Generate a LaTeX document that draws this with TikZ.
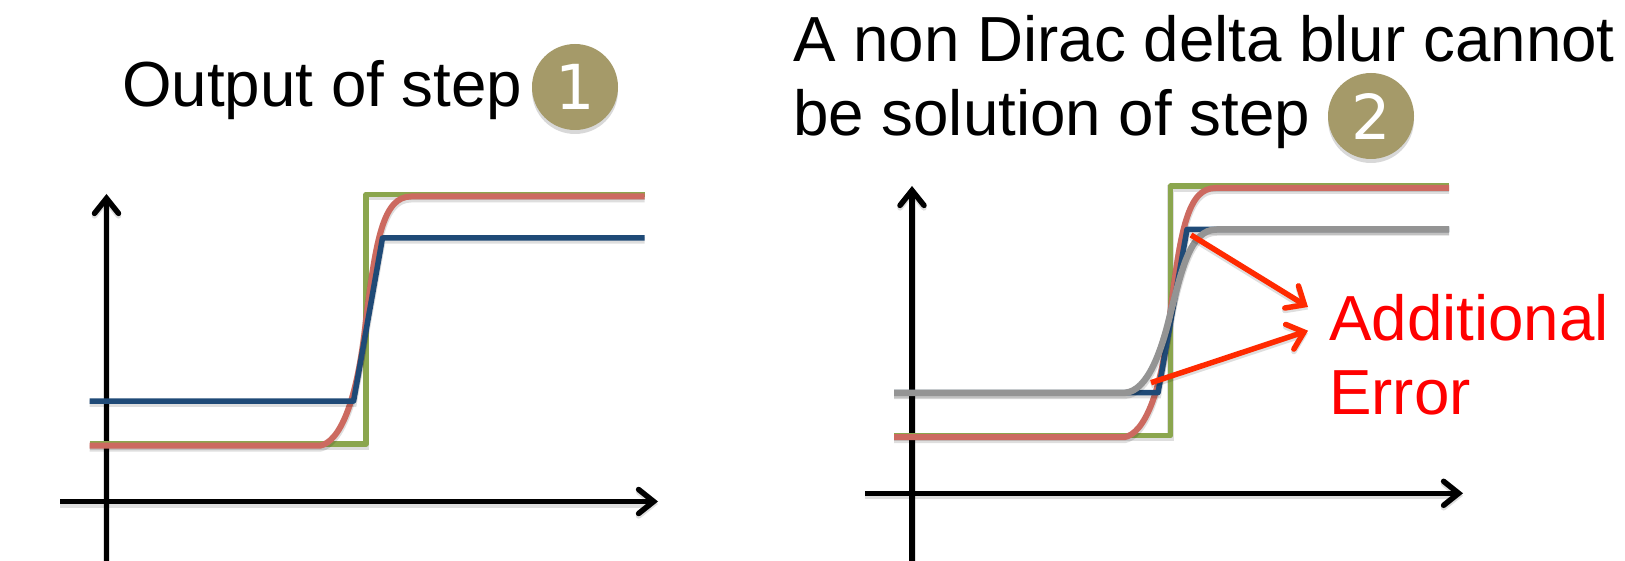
\documentclass[tikz,border=0pt]{standalone}
\usepackage{fontspec}
\setmainfont{Liberation Sans}
\newfontfamily\digitfont{DejaVu Sans}
\usetikzlibrary{arrows.meta,shadows}
\definecolor{stepgreen}{HTML}{8BA64E}
\definecolor{blurred}{HTML}{CC6A60}
\definecolor{navy}{HTML}{1F4A77}
\definecolor{greyline}{HTML}{949494}
\definecolor{badge}{HTML}{A59A69}
\definecolor{errarrow}{HTML}{FF2A00}
\tikzset{
  softshadow/.style={preaction={draw=black,opacity=.13,line width=#1,transform canvas={yshift=-2.5pt}}},
  axisline/.style={draw=black,line width=5.5pt,softshadow=7pt,-{Straight Barb[length=15pt,width=24pt,line cap=round,line width=5.5pt]}},
  curvegreen/.style={draw=stepgreen,line width=5.5pt,line join=round,softshadow=6.5pt},
  curvered/.style={draw=blurred,line width=6pt,line join=round,softshadow=7pt},
  curveblue/.style={draw=navy,line width=5.5pt,line join=round,softshadow=6.5pt},
  curvegrey/.style={draw=greyline,line width=6.5pt,line join=round,softshadow=7.5pt},
  errline/.style={draw=errarrow,line width=5.5pt,softshadow=6pt,-{Straight Barb[length=15pt,width=26pt,line cap=round,line width=5.5pt]}},
  label/.style={font=\fontsize{63.7}{75}\selectfont,anchor=base west,inner sep=0pt},
  badgecirc/.style={circle,fill=badge,draw=none,minimum size=86pt,inner sep=0pt,text=white,
    font=\digitfont\fontsize{62}{62}\selectfont,drop shadow={shadow xshift=0pt,shadow yshift=-4pt,opacity=.3}},
}
\newcommand{\panelcurves}{%
  \coordinate (gs) at (89.7,444);
  \coordinate (gb) at (366,444);
  \coordinate (gt) at (366,194.5);
  \coordinate (ge) at (644.5,194.5);
  \coordinate (rs) at (89.7,445.7);
  \coordinate (rb) at (320,445.7);
  \coordinate (rm) at (366,320);
  \coordinate (rt) at (411,196.5);
  \coordinate (re) at (644.5,196.5);
  \coordinate (bs) at (89.7,401);
  \coordinate (bb) at (353.6,401);
  \coordinate (bt) at (382.5,238);
  \coordinate (be) at (644.5,238);
  \draw[curvegreen] (gs) -- (gb) -- (gt) -- (ge);
  \draw[curvered] (rs) -- (rb) .. controls (339,442) and (357,405) .. (rm) .. controls (376,240) and (383,196.5) .. (rt) -- (re);
  \draw[curveblue] (bs) -- (bb) -- (bt) -- (be);
}
\begin{document}
\begin{tikzpicture}[x=1pt,y=-1pt]
\useasboundingbox (0,0) rectangle (1625,561);
\fill[white] (0,0) rectangle (1625,561);
\begin{scope}
\clip (0,0) rectangle (1625,561);
% left panel
\coordinate (ya1s) at (106.5,561);
\coordinate (ya1e) at (106.5,194);
\coordinate (xa1s) at (60,501.5);
\coordinate (xa1e) at (658,501.5);
\draw[axisline] (ya1s) -- (ya1e);
\draw[axisline] (xa1s) -- (xa1e);
\panelcurves
% right panel
\coordinate (ya2s) at (912,561);
\coordinate (ya2e) at (912,186);
\coordinate (xa2s) at (865,493.3);
\coordinate (xa2e) at (1463,493.3);
\draw[axisline] (ya2s) -- (ya2e);
\draw[axisline] (xa2s) -- (xa2e);
\begin{scope}[shift={(804.5,-8.5)}]
\panelcurves
\end{scope}
\coordinate (gys) at (894.2,392.8);
\coordinate (gyb) at (1125,392.8);
\coordinate (gym) at (1171,311);
\coordinate (gyt) at (1216.7,229.5);
\coordinate (gye) at (1449,229.5);
\draw[curvegrey] (gys) -- (gyb) .. controls (1148,391) and (1162,350) .. (gym) .. controls (1182,270) and (1190,229.5) .. (gyt) -- (gye);
\end{scope}
% titles
\node[label] (t1) at (122,107) {Output of step};
\node[badgecirc] (c1) at (575,87) {1};
\node[label] (t2a) at (793,62) {A non Dirac delta blur cannot};
\node[label] (t2b) at (793,136) {be solution of step};
\node[badgecirc] (c2) at (1371,116) {2};
% error annotation
\node[label,text=red] (e1) at (1329,340) {Additional};
\node[label,text=red] (e2) at (1329,414.5) {Error};
\coordinate (a1s) at (1191,235);
\coordinate (a1e) at (1308,307);
\coordinate (a2s) at (1151,382.7);
\coordinate (a2e) at (1308,330.7);
\draw[errline] (a1s) -- (a1e);
\draw[errline] (a2s) -- (a2e);
\end{tikzpicture}
\end{document}
